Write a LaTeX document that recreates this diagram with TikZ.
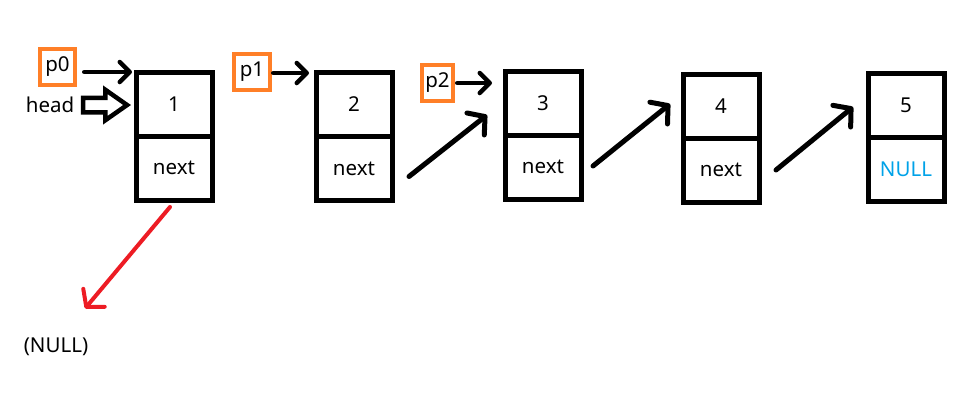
\documentclass[tikz,border=0pt]{standalone}
\usepackage{fontspec}
\setmainfont{Noto Sans}
\usetikzlibrary{positioning,arrows.meta,shapes.arrows}
\definecolor{ptrorange}{RGB}{255,127,39}
\definecolor{nullred}{RGB}{237,28,36}
\definecolor{nullblue}{RGB}{0,162,232}
\newcommand{\cellfont}{\fontsize{20.5}{24}\selectfont}
\tikzset{
  cell/.style={draw, line width=5pt, minimum width=76pt, minimum height=64pt,
    inner sep=0pt, outer sep=0pt, font=\cellfont},
  ptrbox/.style={draw=ptrorange, line width=4.5pt, minimum height=36pt,
    inner sep=0pt, font=\cellfont},
  ptr/.style={line width=4.5pt, line cap=round, -{Straight Barb[round,length=10pt,width=20pt]}},
  link/.style={line width=5pt, line cap=round, -{Straight Barb[round,length=12pt,width=28pt]}},
  nullarr/.style={link, draw=nullred, line width=4pt},
  blockarr/.style={single arrow, draw, line width=4.5pt, inner xsep=0pt, inner ysep=5pt,
    minimum height=44pt, single arrow head extend=8pt, single arrow tip angle=70}
}
\begin{document}
\begin{tikzpicture}[x=1pt,y=-1pt]
  \useasboundingbox (0,0) rectangle (964,405);
  % list nodes
  \node[cell] (v1) at (174,104) {1};
  \node[cell, below=0pt of v1] (x1) {next};
  \node[cell] (v2) at (354,104.5) {2};
  \node[cell, below=0pt of v2] (x2) {next};
  \node[cell] (v3) at (543,103) {3};
  \node[cell, below=0pt of v3] (x3) {next};
  \node[cell] (v4) at (721,106) {4};
  \node[cell, below=0pt of v4] (x4) {next};
  \node[cell] (v5) at (906,105) {5};
  \node[cell, below=0pt of v5, text=nullblue] (x5) {NULL};
  % pointers
  \node[ptrbox, minimum width=35pt] (p0) at (57.5,67) {p0};
  \node[ptrbox, minimum width=36pt] (p1) at (252,72) {p1};
  \node[ptrbox, minimum width=31pt] (p2) at (437.5,83) {p2};
  \draw[ptr] ([xshift=7pt,yshift=-5pt]p0.east) -- ([xshift=-4pt]v1.north west);
  \draw[ptr] ([xshift=1pt,yshift=-1pt]p1.east) -- ([xshift=-7pt,yshift=-0.5pt]v2.north west);
  \draw[ptr] ([xshift=2pt]p2.east) -- ([xshift=-13pt,yshift=-12pt]v3.north west);
  % head
  \node[blockarr, anchor=tip] (hd) at ([xshift=-5pt,yshift=-1pt]v1.west) {};
  \node[font=\cellfont, left=3pt of hd.tail] (head) {head};
  % links
  \draw[link] ([xshift=17pt,yshift=-8pt]x2.east) -- ([xshift=-18pt,yshift=-12pt]v3.west);
  \draw[link] ([xshift=12pt,yshift=1pt]x3.east) -- ([xshift=-13pt,yshift=2pt]v4.west);
  \draw[link] ([xshift=17pt]x4.east) -- ([xshift=-15pt,yshift=-2pt]v5.west);
  % null
  \node[font=\cellfont] (nul) at (56,347) {(NULL)};
  \draw[nullarr] ([xshift=-4pt,yshift=-7pt]x1.south) -- ([xshift=29pt,yshift=26pt]nul.north);
\end{tikzpicture}
\end{document}
